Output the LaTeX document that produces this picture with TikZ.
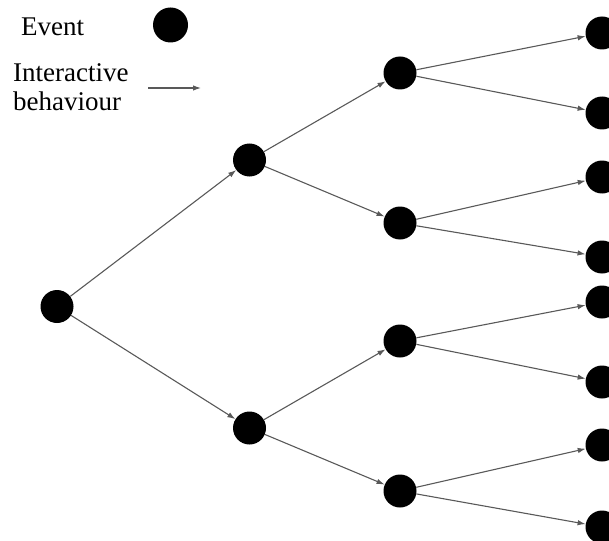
\documentclass[tikz,border=0pt]{standalone}
\usepackage{fontspec}
\setmainfont{Liberation Serif}
\usetikzlibrary{arrows.meta}
\tikzset{
  event/.style={circle, fill=black, draw=none, minimum size=33pt, inner sep=0pt},
  interact/.style={draw=black!65, line width=1.1pt, -{Latex[length=8pt,width=5.5pt]}},
  legtext/.style={anchor=base west, inner sep=0pt, font=\fontsize{27}{31}\selectfont}
}
\begin{document}
\begin{tikzpicture}[x=1pt,y=-1pt]
\useasboundingbox (0,0) rectangle (609,540);
% legend
\node[legtext] (evtxt) at (21,36) {Event};
\node[event, minimum size=35pt] (evdot) at (170.5,25) {};
\node[legtext] (ib1) at (13,82) {Interactive};
\node[legtext] (ib2) at (13,111) {behaviour};
\coordinate (la) at (148,88);
\coordinate (lb) at (201,88);
\draw[interact] (la) -- (lb);
% tree
\node[event] (r) at (57,306.5) {};
\node[event] (a) at (249.5,160) {};
\node[event] (b) at (249.5,428) {};
\node[event] (aa) at (400,73) {};
\node[event] (ab) at (400,223) {};
\node[event] (ba) at (400,341) {};
\node[event] (bb) at (400,491) {};
\node[event] (aaa) at (602,33) {};
\node[event] (aab) at (602,113) {};
\node[event] (aba) at (602,177) {};
\node[event] (abb) at (602,257) {};
\node[event] (baa) at (602,302) {};
\node[event] (bab) at (602,382) {};
\node[event] (bba) at (602,445) {};
\node[event] (bbb) at (602,527) {};
\draw[interact] (r) -- (a);
\draw[interact] (r) -- (b);
\draw[interact] (a) -- (aa);
\draw[interact] (a) -- (ab);
\draw[interact] (b) -- (ba);
\draw[interact] (b) -- (bb);
\draw[interact] (aa) -- (aaa);
\draw[interact] (aa) -- (aab);
\draw[interact] (ab) -- (aba);
\draw[interact] (ab) -- (abb);
\draw[interact] (ba) -- (baa);
\draw[interact] (ba) -- (bab);
\draw[interact] (bb) -- (bba);
\draw[interact] (bb) -- (bbb);
\end{tikzpicture}
\end{document}
